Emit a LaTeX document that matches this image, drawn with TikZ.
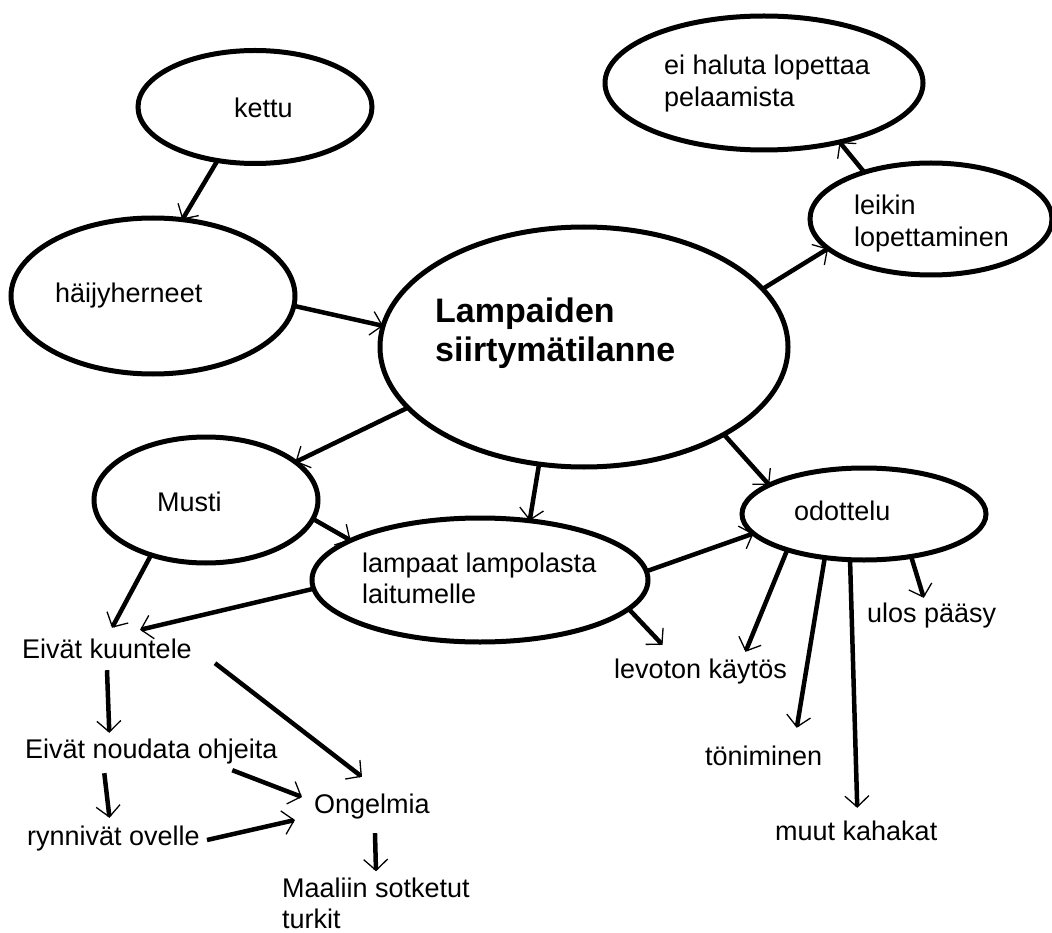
\documentclass[tikz,border=0pt]{standalone}
\usepackage{fontspec}
\setmainfont{Liberation Sans}
\usetikzlibrary{shapes.geometric,arrows.meta}

\begin{document}
\begin{tikzpicture}[x=1pt,y=-1pt,
    bubble/.style={ellipse,draw,line width=5pt,inner sep=0pt,outer sep=0pt},
    txt/.style={anchor=base west,inner sep=2pt,align=left,font=\fontsize{27}{32}\selectfont},
    lbl/.style={txt,text height=20pt,text depth=6pt},
    arr/.style={line width=4.5pt,-{Straight Barb[length=11pt,width=24pt,line width=1.3pt]}}]
    \fill[white] (0,0) rectangle (1052,933);
    \useasboundingbox (0,0) rectangle (1052,933);
    % ellipses
    \node[bubble,minimum width=234pt,minimum height=113pt] (kettu) at (255,107) {};
    \node[bubble,minimum width=284pt,minimum height=156pt] (haijy) at (153,296) {};
    \node[bubble,minimum width=408pt,minimum height=240pt] (lamp) at (584,347) {};
    \node[bubble,minimum width=242pt,minimum height=112pt] (leikin) at (931,219) {};
    \node[bubble,minimum width=318pt,minimum height=134pt] (eihal) at (764,83) {};
    \node[bubble,minimum width=224pt,minimum height=126pt] (musti) at (206,500) {};
    \node[bubble,minimum width=336pt,minimum height=124pt] (lampaat) at (480,580) {};
    \node[bubble,minimum width=244pt,minimum height=92pt] (odottelu) at (864,514) {};
    % texts in the ellipses (base = last line)
    \node[txt] (kettutxt) at (232,118) {kettu};
    \node[txt] (haijytxt) at (53,302) {häijyherneet};
    \node[txt,font=\fontsize{34}{39}\selectfont\bfseries] (lamptxt) at (433,361) {Lampaiden\\siirtymätilanne};
    \node[txt] (leikintxt) at (852,247) {leikin\\lopettaminen};
    \node[txt] (eihaltxt) at (662,107) {ei haluta lopettaa\\pelaamista};
    \node[txt] (mustitxt) at (155,511) {Musti};
    \node[txt,font=\fontsize{27}{31}\selectfont] (lampaattxt) at (360,603) {lampaat lampolasta\\laitumelle};
    \node[txt] (odottelutxt) at (792,520) {odottelu};
    % free texts
    \node[lbl] (kuuntele) at (20,658) {Eivät kuuntele};
    \node[lbl] (noudata) at (23,758) {Eivät noudata ohjeita};
    \node[lbl] (rynnivat) at (25,845) {rynnivät ovelle};
    \node[lbl] (ongelmia) at (312,813) {Ongelmia};
    \node[txt,font=\fontsize{27}{31}\selectfont] (maaliin) at (280,928) {Maaliin sotketut\\turkit};
    \node[lbl] (levoton) at (612,678) {levoton käytös};
    \node[lbl] (toniminen) at (703,765) {töniminen};
    \node[lbl] (muut) at (773,840) {muut kahakat};
    \node[lbl] (ulos) at (865,622) {ulos pääsy};
    % arrows
    \draw[arr] (kettu.235) -- (haijy.69);
    \draw[arr] (haijy.356) -- (lamp.174);
    \draw[arr] (lamp.18) -- (leikin.196);
    \draw[arr] (leikin.145) -- (eihal.322);
    \draw[arr] (lamp.199) -- (musti.23);
    \draw[arr] (lamp.249) -- (lampaat.50);
    \draw[arr] (lamp.328) -- (odottelu.163);
    \draw[arr] (musti.350) -- (lampaat.163);
    \draw[arr] (musti.225) -- ([xshift=5pt,yshift=8pt]kuuntele.north);
    \draw[arr] (lampaat.183) -- ([xshift=33pt,yshift=6pt]kuuntele.north);
    \draw[arr] (lampaat.3) -- (odottelu.190);
    \draw[arr] (lampaat.349) -- ([xshift=-38pt,yshift=11pt]levoton.north);
    \draw[arr] (odottelu.205) -- ([xshift=45pt,yshift=4pt]levoton.north);
    \draw[arr] (odottelu.228) -- ([xshift=33pt,yshift=15pt]toniminen.north);
    \draw[arr] (odottelu.253) -- ([xshift=1pt,yshift=10pt]muut.north);
    \draw[arr] (odottelu.318) -- ([xshift=-8pt,yshift=2pt]ulos.north);
    \draw[arr] ([yshift=-4pt]kuuntele.south) -- ([xshift=-42pt,yshift=3pt]noudata.north);
    \draw[arr] ([xshift=21pt,yshift=3pt]kuuntele.south east) -- ([xshift=-10pt,yshift=14pt]ongelmia.north);
    \draw[arr] ([xshift=-47pt,yshift=-7pt]noudata.south) -- ([xshift=-4pt,yshift=5pt]rynnivat.north);
    \draw[arr] ([xshift=81pt,yshift=-4pt]noudata.south) -- ([xshift=-10pt,yshift=9pt]ongelmia.west);
    \draw[arr] ([xshift=5pt,yshift=-2pt]rynnivat.east) -- ([xshift=-17pt,yshift=-14pt]ongelmia.west);
    \draw[arr] ([xshift=3pt,yshift=-12pt]ongelmia.south) -- ([yshift=4pt]maaliin.north);
\end{tikzpicture}
\end{document}
